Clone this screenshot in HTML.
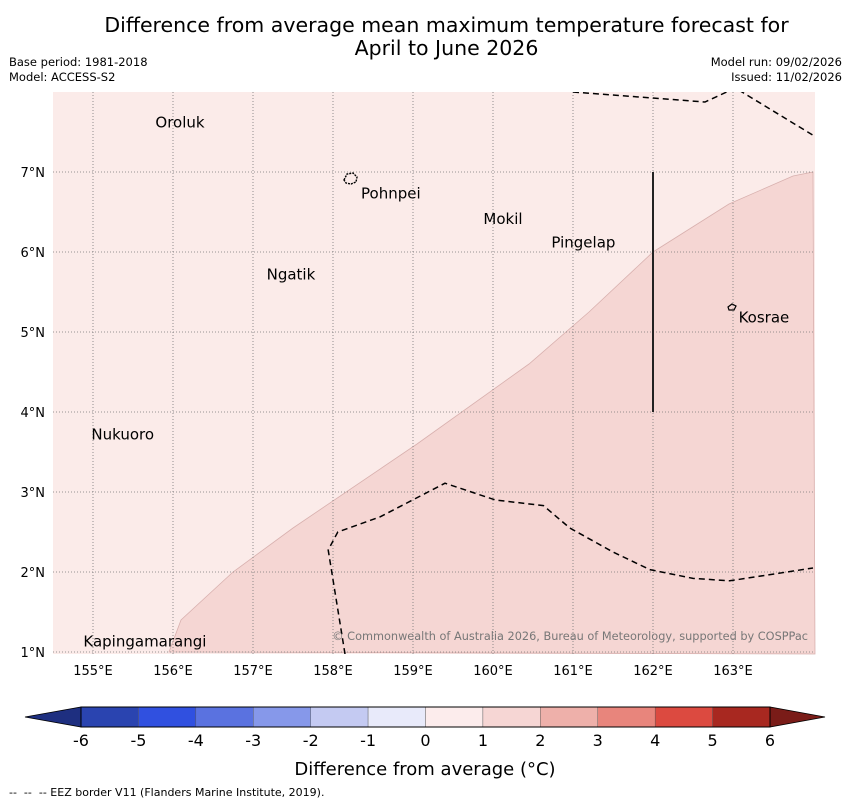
<!DOCTYPE html>
<html><head><meta charset="utf-8"><style>
body{margin:0;background:#fff;font-family:"DejaVu Sans","Liberation Sans",sans-serif;}
#wrap{position:relative;width:850px;height:804px;overflow:hidden;}
.t{position:absolute;white-space:nowrap;}
</style></head><body>
<div id="wrap">
<div class="t" style="left:0;width:893px;top:14px;text-align:center;font-size:20.5px;line-height:23px;color:#000">Difference from average mean maximum temperature forecast for<br>April to June 2026</div>
<div class="t" style="left:9px;top:55px;font-size:11.5px;line-height:15px">Base period: 1981-2018<br>Model: ACCESS-S2</div>
<div class="t" style="right:8px;top:55px;font-size:11.5px;line-height:15px;text-align:right">Model run: 09/02/2026<br>Issued: 11/02/2026</div>
<svg id="map" width="850" height="804" style="position:absolute;left:0;top:0"></svg>
<div class="t" style="left:9px;top:786px;font-size:11px">--&nbsp; --&nbsp; -- EEZ border V11 (Flanders Marine Institute, 2019).</div>
</div>
<script>
const lonTicks=[155,156,157,158,159,160,161,162,163];
const latTicks=[1,2,3,4,5,6,7];
const cbTicks=[-6,-5,-4,-3,-2,-1,0,1,2,3,4,5,6];
const cbColors=["#2a44b0","#3050e0","#5a72e0","#8698ea","#c4caf2","#e8eafa","#fcecec","#f6d6d4","#eeb0aa","#e8857c","#dc4a40","#a82820"];
const places=["Oroluk","Pohnpei","Mokil","Pingelap","Ngatik","Kosrae","Nukuoro","Kapingamarangi"];
const placeLon=[155.78,158.35,159.88,160.73,157.17,163.07,154.98,154.88];
const placeLat=[7.62,6.73,6.41,6.12,5.72,5.18,3.72,1.13];
const anomLon=[155.95,156.1,156.75,157.5,159.05,160.45,161.2,162.0,162.95,163.75,164.0];
const anomLat=[1.0,1.4,2.0,2.55,3.6,4.6,5.25,6.0,6.6,6.95,7.0];
const eez1Lon=[161.0,162.65,163.03,164.0];
const eez1Lat=[8.0,7.875,8.05,7.46];
const eez2Lon=[158.15,157.94,158.06,158.59,159.4,160.03,160.63,160.96,161.5,161.96,162.5,162.96,164.0];
const eez2Lat=[0.975,2.275,2.5,2.69,3.11,2.9,2.83,2.55,2.25,2.03,1.92,1.89,2.05];
const X=l=>93+(l-155)*80, Y=l=>652-(l-1)*80;
const svg=document.getElementById('map');const NS='http://www.w3.org/2000/svg';
function mk(t,a,p){const e=document.createElementNS(NS,t);for(const k in a)e.setAttribute(k,a[k]);(p||svg).appendChild(e);return e;}
const x0=53,x1=815,y0=92,y1=654;
const clip=mk('clipPath',{id:'mc'});mk('rect',{x:x0,y:y0,width:x1-x0,height:y1-y0},clip);
const bg=mk('rect',{x:x0,y:y0,width:x1-x0,height:y1-y0,fill:'#fbebe9'});


let pts=anomLon.map((l,i)=>X(l)+','+Y(anomLat[i])).join(' ');
pts+=' '+x1+','+y1;
const poly=mk('polygon',{points:pts,fill:'#f5d6d3',stroke:'#d8b0ae','stroke-width':0.8});


lonTicks.forEach(l=>{
 const g=mk('line',{x1:X(l),x2:X(l),y1:y0,y2:y1,stroke:'#777','stroke-width':0.8,'stroke-dasharray':'1,2'});
 
 
 const t=mk('text',{x:X(l),y:675,'text-anchor':'middle','font-size':13});t.textContent=l+'°E';
 
 
});
latTicks.forEach(l=>{
 const g=mk('line',{x1:x0,x2:x1,y1:Y(l),y2:Y(l),stroke:'#777','stroke-width':0.8,'stroke-dasharray':'1,2'});
 
 
 const t=mk('text',{x:45,y:Y(l)+5,'text-anchor':'end','font-size':13});t.textContent=l+'°N';
 
 
});
const vl=mk('line',{x1:X(162),x2:X(162),y1:Y(7),y2:Y(4),stroke:'#222','stroke-width':2});


[[eez1Lon,eez1Lat],[eez2Lon,eez2Lat]].forEach(([lo,la])=>{
 const p=mk('polyline',{points:lo.map((l,i)=>X(l)+','+Y(la[i])).join(' '),fill:'none',stroke:'#000','stroke-width':1.5,'stroke-dasharray':'6,4','clip-path':'url(#mc)'});
 
 
});
const isl1=mk('path',{d:'M344,180 l3,-6 6,-1 4,4 -1,5 -5,2 -5,-1z',fill:'none',stroke:'#000','stroke-width':1.4,'stroke-dasharray':'2,1'});


const isl2=mk('path',{d:'M728,307 l4,-3 4,2 -2,4 -5,0z',fill:'none',stroke:'#000','stroke-width':1.2});


places.forEach((n,i)=>{
 const t=mk('text',{x:X(placeLon[i]),y:Y(placeLat[i])+5,'font-size':15});t.textContent=n;
 
 
});
const cp=mk('text',{x:808,y:640,'text-anchor':'end','font-size':11.3,fill:'#777'});cp.textContent='© Commonwealth of Australia 2026, Bureau of Meteorology, supported by COSPPac';


const cbx0=81,cbx1=770,cby=707,cbh=20,w=(cbx1-cbx0)/cbColors.length;
const tl=mk('polygon',{points:`${cbx0},${cby} ${cbx0},${cby+cbh} 25,${cby+cbh/2}`,fill:'#1e2f80',stroke:'#000','stroke-width':0.8});


const tr=mk('polygon',{points:`${cbx1},${cby} ${cbx1},${cby+cbh} 825,${cby+cbh/2}`,fill:'#7a1c18',stroke:'#000','stroke-width':0.8});


cbColors.forEach((c,i)=>{
 const r=mk('rect',{x:cbx0+i*w,y:cby,width:w,height:cbh,fill:c,stroke:'#555','stroke-width':0.4});
 
 
});
const ob=mk('rect',{x:cbx0,y:cby,width:cbx1-cbx0,height:cbh,fill:'none',stroke:'#000','stroke-width':1});


cbTicks.forEach((v,i)=>{
 const t=mk('text',{x:cbx0+i*(cbx1-cbx0)/(cbTicks.length-1),y:746,'text-anchor':'middle','font-size':16});t.textContent=v;
 
 
});
const ct=mk('text',{x:425,y:775,'text-anchor':'middle','font-size':18});ct.textContent='Difference from average (°C)';


</script>
</body></html>
